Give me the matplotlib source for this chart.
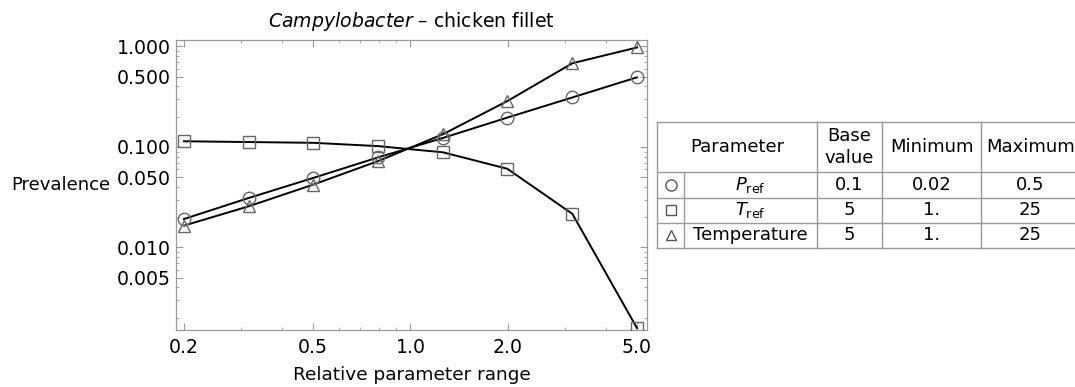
import numpy as np
import matplotlib
matplotlib.use('Agg')
import matplotlib.pyplot as plt
from matplotlib.ticker import FixedLocator, FixedFormatter, NullFormatter

# -- values
x_rel = [0.2, 0.317, 0.502, 0.795, 1.26, 1.99, 3.16, 5.0]
prev_pref = [0.0192, 0.0311, 0.0493, 0.0788, 0.123, 0.196, 0.311, 0.493]
prev_tref = [0.114, 0.112, 0.110, 0.102, 0.0885, 0.0607, 0.0216, 0.00158]
prev_temp = [0.0165, 0.0257, 0.0423, 0.0724, 0.134, 0.286, 0.681, 0.977]

xticks = [0.2, 0.5, 1.0, 2.0, 5.0]
xticklabels = ['0.2', '0.5', '1.0', '2.0', '5.0']
yticks = [0.005, 0.01, 0.05, 0.1, 0.5, 1.0]
yticklabels = ['0.005', '0.010', '0.050', '0.100', '0.500', '1.000']

# table content
param_names = [r'$P_{\mathrm{ref}}$', r'$T_{\mathrm{ref}}$', 'Temperature']
base_vals = ['0.1', '5', '5']
min_vals = ['0.02', '1.', '1.']
max_vals = ['0.5', '25', '25']
headers = ['Parameter', 'Base\nvalue', 'Minimum', 'Maximum']

markers = ['o', 's', '^']
series = [prev_pref, prev_tref, prev_temp]

plt.rcParams['font.family'] = 'DejaVu Sans'
plt.rcParams['mathtext.fontset'] = 'dejavusans'

W, H = 1075, 387
fig = plt.figure(figsize=(W/100, H/100), dpi=100)
ax = fig.add_axes([176/W, 1-330/H, (647-176)/W, (330-40)/H])

for y, m in zip(series, markers):
    ax.plot(x_rel, y, color='black', lw=1.4, zorder=2)
    ax.plot(x_rel, y, ls='none', marker=m, ms=8 if m != 'o' else 9,
            mfc='none', mec='#666666', mew=1.0, zorder=3)

ax.set_xscale('log')
ax.set_yscale('log')
ax.set(xlim=(0.189, 5.37), ylim=(0.00151, 1.16))

ax.xaxis.set_major_locator(FixedLocator(xticks))
ax.xaxis.set_major_formatter(FixedFormatter(xticklabels))
ax.xaxis.set_minor_locator(FixedLocator([0.3, 0.4, 0.6, 0.7, 0.8, 0.9, 3, 4]))
ax.xaxis.set_minor_formatter(NullFormatter())
ax.yaxis.set_major_locator(FixedLocator(yticks))
ax.yaxis.set_major_formatter(FixedFormatter(yticklabels))
ax.yaxis.set_minor_locator(FixedLocator([0.002, 0.003, 0.004, 0.006, 0.007, 0.008, 0.009,
                                         0.02, 0.03, 0.04, 0.06, 0.07, 0.08, 0.09,
                                         0.2, 0.3, 0.4, 0.6, 0.7, 0.8, 0.9]))
ax.yaxis.set_minor_formatter(NullFormatter())

for s in ax.spines.values():
    s.set_color('#999999')
    s.set_linewidth(0.9)
ax.tick_params(which='both', direction='in', top=True, right=True, color='#999999')
ax.tick_params(which='major', length=5, labelsize=13.6)
ax.tick_params(which='minor', length=2.5)
ax.tick_params(axis='x', which='major', pad=6)
ax.tick_params(axis='y', which='major', pad=4)

ax.set_title(r'$\mathit{Campylobacter}$ – chicken fillet', fontsize=13.6, pad=9)
ax.set_xlabel('Relative parameter range', fontsize=13.3, labelpad=6)
fig.text(61/W, 1-185/H, 'Prevalence', ha='center', va='center', fontsize=13)

# -- parameter table, drawn in pixel units
tx0, ty0, tw, th = 657, 122, 423, 126
tab = fig.add_axes([tx0/W, 1-(ty0+th)/H, tw/W, th/H])
tab.set_xlim(0, tw)
tab.set_ylim(th, 0)
tab.axis('off')

cols = [0, 27, 160, 225, 324, 423]
rows = [0, 50, 76, 101, 126]
lc = '#999999'
fs = 13
for yy in rows:
    tab.plot([0, tw], [yy, yy], color=lc, lw=1, clip_on=False)
for i, xx in enumerate(cols):
    y_start = rows[1] if i == 1 else 0
    tab.plot([xx, xx], [y_start, th], color=lc, lw=1, clip_on=False)

tab.text(cols[2]/2, rows[1]/2, headers[0], ha='center', va='center', fontsize=fs)
for j in range(1, 4):
    tab.text((cols[j+1]+cols[j+2])/2, rows[1]/2, headers[j], ha='center', va='center',
             fontsize=fs, linespacing=1.25, clip_on=False)

for i in range(3):
    yc = (rows[i+1]+rows[i+2])/2
    tab.plot((cols[0]+cols[1])/2, yc, ls='none', marker=markers[i], ms=7 if i else 8,
             mfc='none', mec='#555555', mew=1.0)
    tab.text((cols[1]+cols[2])/2, yc, param_names[i], ha='center', va='center', fontsize=fs)
    tab.text((cols[2]+cols[3])/2, yc, base_vals[i], ha='center', va='center', fontsize=fs)
    tab.text((cols[3]+cols[4])/2, yc, min_vals[i], ha='center', va='center', fontsize=fs)
    tab.text((cols[4]+cols[5])/2, yc, max_vals[i], ha='center', va='center', fontsize=fs,
             clip_on=False)

fig.savefig('out.png', dpi=100)
